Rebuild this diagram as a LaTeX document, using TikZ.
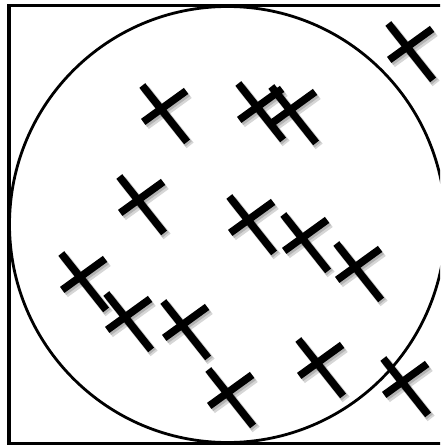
\documentclass[tikz,border=0pt]{standalone}
\begin{document}
\begin{tikzpicture}[x=1pt,y=-1pt,
  frame/.style={line width=3.4pt,black},
  ring/.style={line width=2.8pt,black},
  bar/.style={line width=7.5pt,black},
  shade/.style={line width=9pt,black,opacity=0.16},
  pics/mark/.style={code={
    \begin{scope}[shift={(3,3.5)}]
      \draw[shade] (-18.7,-23.5) -- (26.1,32.9);
      \draw[shade] (-17.8,12.9) -- (25.1,-18.1);
    \end{scope}
    \begin{scope}[shift={(1.5,2)}]
      \draw[shade,line width=8pt] (-18.7,-23.5) -- (26.1,32.9);
      \draw[shade,line width=8pt] (-17.8,12.9) -- (25.1,-18.1);
    \end{scope}
    \draw[bar] (-18.7,-23.5) -- (26.1,32.9);
    \draw[bar] (-17.8,12.9) -- (25.1,-18.1);
  }}]
\useasboundingbox (0,0) rectangle (440,446);
\fill[white] (0,0) rectangle (440,446);
\begin{scope}
\clip (0,0) rectangle (440,446);
\draw[frame] (9,5.5) rectangle (450,443.5);
\draw[ring] (227.5,224.5) circle (218);
\foreach \cx/\cy in {161/109, 257/107, 290/110, 407/47, 138/200, 248/220,
  302/238, 355/267, 80/277, 125/317, 182/325, 227/393, 317/363, 402/382}
  \pic at (\cx,\cy) {mark};
\end{scope}
\end{tikzpicture}
\end{document}
